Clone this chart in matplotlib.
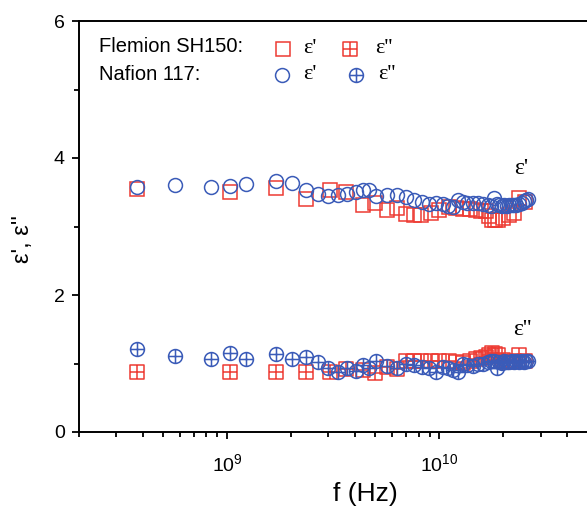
import matplotlib
matplotlib.use("Agg")
import matplotlib.pyplot as plt
from matplotlib.path import Path
from matplotlib.ticker import NullFormatter, FixedLocator, LogLocator

# ==========================================
# 1. DATA
# ==========================================
# Nafion 117, frequency in GHz
nafion_f = [0.375, 0.571, 0.837, 1.036, 1.229, 1.694, 2.014, 2.363, 2.683, 2.99,
            3.33, 3.67, 4.03, 4.39, 4.68, 5.01, 5.65, 6.32, 7.0, 7.63,
            8.25, 8.97, 9.65, 10.36, 10.98, 11.64, 12.29, 12.88, 13.5, 14.35,
            15.15, 16.0, 16.9, 17.5, 18.16, 18.7, 19.2, 19.7, 20.2, 20.8,
            21.4, 22.0, 22.5, 23.1, 23.8, 24.4, 25.1, 25.7, 26.3]
nafion_e1 = [3.57, 3.61, 3.57, 3.59, 3.62, 3.67, 3.63, 3.53, 3.47, 3.45,
             3.455, 3.48, 3.51, 3.53, 3.53, 3.45, 3.46, 3.46, 3.43, 3.39,
             3.36, 3.33, 3.35, 3.33, 3.30, 3.29, 3.38, 3.36, 3.35, 3.35,
             3.35, 3.33, 3.32, 3.30, 3.41, 3.33, 3.32, 3.30, 3.31, 3.30,
             3.31, 3.32, 3.31, 3.32, 3.33, 3.35, 3.37, 3.38, 3.40]
nafion_e2 = [1.21, 1.11, 1.06, 1.16, 1.06, 1.14, 1.06, 1.10, 1.02, 0.94,
             0.88, 0.93, 0.895, 0.98, 0.93, 1.04, 0.96, 0.94, 1.00, 0.98,
             0.95, 0.93, 0.88, 0.95, 0.93, 0.905, 0.88, 1.00, 0.98, 0.97,
             0.99, 1.00, 1.02, 1.03, 1.03, 0.93, 1.02, 1.01, 1.03, 1.02,
             1.02, 1.03, 1.02, 1.03, 1.02, 1.03, 1.02, 1.03, 1.03]

# Flemion SH150, frequency in GHz
flemion_f = [0.375, 1.036, 1.694, 2.363, 3.04, 3.63, 4.36, 4.99, 5.65, 6.3,
             6.97, 7.6, 8.2, 9.15, 10.0, 11.1, 12.0, 12.9, 14.0, 14.9,
             15.8, 16.6, 17.2, 17.8, 18.3, 18.8, 19.9, 21.4, 22.6, 23.8, 25.4]
flemion_e1 = [3.55, 3.51, 3.56, 3.40, 3.53, 3.51, 3.32, 3.34, 3.24, 3.27,
              3.18, 3.17, 3.17, 3.19, 3.24, 3.29, 3.27, 3.26, 3.25, 3.24,
              3.23, 3.22, 3.15, 3.10, 3.09, 3.09, 3.12, 3.17, 3.19, 3.42, 3.36]
flemion_e2 = [0.88, 0.88, 0.88, 0.88, 0.88, 0.915, 0.90, 0.865, 0.95, 0.915,
              1.04, 1.03, 1.03, 1.03, 1.03, 1.04, 1.02, 1.01, 1.03, 1.06,
              1.08, 1.10, 1.13, 1.16, 1.14, 1.12, 1.05, 1.02, 1.03, 1.13, 1.03]

x_major = [1e9, 1e10]
y_ticks = [0, 2, 4, 6]
y_minor = [1, 3, 5]

# ==========================================
# 2. STYLE
# ==========================================
RED = "#EE3B33"
BLUE = "#3A5BB8"
SANS = "Liberation Sans"
SERIF = "Liberation Serif"
MS = 10

plt.rcParams["font.family"] = [SANS, "DejaVu Sans"]
plt.rcParams["mathtext.fontset"] = "custom"
plt.rcParams["mathtext.rm"] = SANS
plt.rcParams["mathtext.it"] = SANS

# crossed square and crossed circle markers
M, L = Path.MOVETO, Path.LINETO
cross = Path([(-1, 0), (1, 0), (0, -1), (0, 1)], [M, L, M, L])
sq_cross = Path.make_compound_path(
    Path([(-1, -1), (1, -1), (1, 1), (-1, 1), (-1, -1)], [M, L, L, L, Path.CLOSEPOLY]),
    cross)
circ_cross = Path.make_compound_path(Path.unit_circle(), cross)

fig = plt.figure(figsize=(5.87, 5.13), dpi=100)
# right spine sits outside the figure, as in the reference
ax = fig.add_axes([78.6 / 587, 81 / 513, 573 / 587, 411 / 513])


def ghz(vals):
    return [v * 1e9 for v in vals]


kw = dict(linestyle="none", markersize=MS, markerfacecolor="none", markeredgewidth=1.1)
ax.plot(ghz(flemion_f), flemion_e1, marker="s", color=RED, **kw)
ax.plot(ghz(flemion_f), flemion_e2, marker=sq_cross, color=RED, **kw)
ax.plot(ghz(nafion_f), nafion_e1, marker="o", color=BLUE, **kw)
ax.plot(ghz(nafion_f), nafion_e2, marker=circ_cross, color=BLUE, **kw)

ax.set_xscale("log")
ax.set_xlim(2e8, 1e11)
ax.set_ylim(0, 6)
ax.xaxis.set_major_locator(FixedLocator(x_major))
ax.xaxis.set_minor_locator(LogLocator(base=10, subs=range(2, 10), numticks=20))
ax.xaxis.set_minor_formatter(NullFormatter())
ax.set_yticks(y_ticks)
ax.yaxis.set_minor_locator(FixedLocator(y_minor))

for s in ax.spines.values():
    s.set_linewidth(1.4)
ax.spines["right"].set_visible(False)
ax.tick_params(which="both", direction="out", width=1.3, labelsize=14)
ax.tick_params(which="major", length=5)
ax.tick_params(which="minor", length=3.5)
ax.tick_params(axis="x", which="major", pad=10)
ax.tick_params(axis="y", which="major", pad=5)

ax.set_xlabel("f (Hz)", fontsize=19, labelpad=5)
ax.set_ylabel("ε', ε''", fontsize=17)
ax.yaxis.set_label_coords(-0.078, 0.47)

# curve labels
ax.text(2.43e10, 3.85, "ε'", family=SERIF, fontsize=17, ha="center", va="center")
ax.text(2.45e10, 1.49, "ε''", family=SERIF, fontsize=17, ha="center", va="center")


# hand-made legend in figure pixels
def fx(px):
    return px / 587


def fy(py):
    return 1 - py / 513


fig.text(fx(99), fy(47), "Flemion SH150:", fontsize=14.5, va="center")
fig.text(fx(99), fy(74), "Nafion 117:", fontsize=14.5, va="center")
leg = [(283, 48.5, "s", RED, 303, "ε'"), (350, 48.5, sq_cross, RED, 375, "ε''"),
       (282, 74.5, "o", BLUE, 303, "ε'"), (356, 74.5, circ_cross, BLUE, 378, "ε''")]
for mx, my, mk, col, tx, lab in leg:
    ax.plot([fx(mx)], [fy(my)], marker=mk, color=col, transform=fig.transFigure,
            clip_on=False, **kw)
    fig.text(fx(tx), fy(my), lab, family=SERIF, fontsize=16, va="center")

fig.savefig("out.png", dpi=100)
